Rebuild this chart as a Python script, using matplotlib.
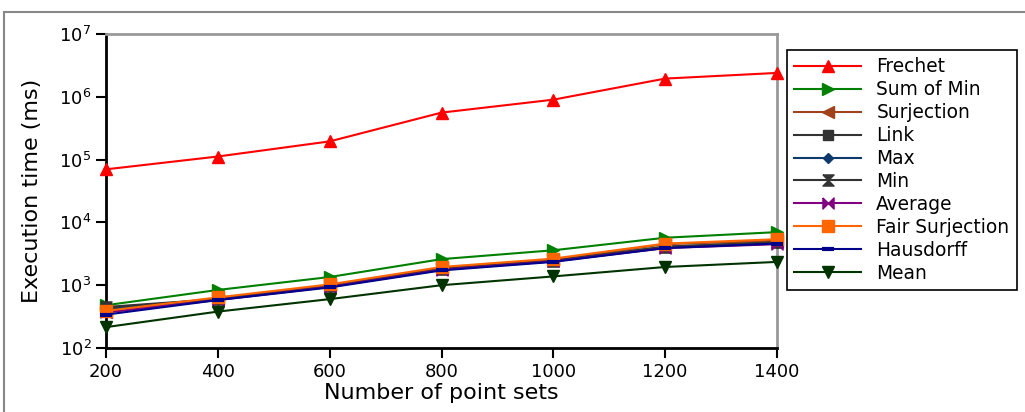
import matplotlib
matplotlib.use("Agg")
import matplotlib.pyplot as plt
from matplotlib.patches import Rectangle

# Number of point sets processed
point_sets = [200, 400, 600, 800, 1000, 1200, 1400]

# Execution time (ms) per distance measure
frechet = [7.0e4, 1.12e5, 1.95e5, 5.6e5, 9.0e5, 1.95e6, 2.4e6]
sum_of_min = [480, 840, 1350, 2600, 3600, 5700, 7000]
surjection = [370, 610, 990, 1880, 2550, 4500, 5100]
link = [430, 600, 960, 1800, 2450, 4100, 4800]
max_ = [410, 590, 950, 1780, 2400, 4000, 4700]
min_ = [450, 600, 960, 1800, 2450, 4100, 4800]
average = [370, 580, 940, 1760, 2400, 3900, 4500]
fair_surjection = [390, 640, 1030, 1950, 2650, 4600, 5400]
hausdorff = [340, 580, 920, 1720, 2350, 3900, 4600]
mean = [215, 380, 600, 1000, 1380, 1950, 2350]

labels = ["Frechet", "Sum of Min", "Surjection", "Link", "Max", "Min",
          "Average", "Fair Surjection", "Hausdorff", "Mean"]
series = [frechet, sum_of_min, surjection, link, max_, min_,
          average, fair_surjection, hausdorff, mean]

hourglass = [(-1, 1), (1, 1), (-1, -1), (1, -1), (-1, 1)]
bowtie = [(-1, 1), (-1, -1), (1, 1), (1, -1), (-1, 1)]

styles = [
    dict(color="#ff0000", marker="^", ms=8),
    dict(color="#008000", marker=">", ms=8),
    dict(color="#a0421b", marker="<", ms=8),
    dict(color="#333333", marker="s", ms=7),
    dict(color="#0e3a6b", marker="D", ms=5),
    dict(color="#333333", marker=hourglass, ms=8),
    dict(color="#800080", marker=bowtie, ms=8),
    dict(color="#ff6600", marker="s", ms=8),
    dict(color="#00008b", marker="_", ms=8, mew=3),
    dict(color="#003300", marker="v", ms=8),
]

fig = plt.figure(figsize=(10.25, 4.12), dpi=100)
ax = fig.add_axes([106 / 1025, 1 - 348 / 412, (777 - 106) / 1025, (348 - 34) / 412])

handles = []
for vals, lab, st in zip(series, labels, styles):
    st = dict(st)
    mew = st.pop("mew", 1)
    h, = ax.plot(point_sets, vals, label=lab, lw=1.5, mew=mew,
                 clip_on=False, zorder=3, **st)
    handles.append(h)

ax.set_yscale("log")
ax.set_ylim(1e2, 1e7)
ax.set_xlim(200, 1400)
ax.set_xticks(point_sets)
ax.minorticks_off()
ax.tick_params(labelsize=13, length=7, width=1.5)

ax.spines["left"].set_linewidth(2)
ax.spines["bottom"].set_linewidth(2)
for s in ("top", "right"):
    ax.spines[s].set_color("#999999")
    ax.spines[s].set_linewidth(2)

ax.set_xlabel("Number of point sets", fontsize=16, labelpad=2)
ax.set_ylabel("Execution time (ms)", fontsize=16, labelpad=12)

leg = fig.legend(handles=handles, loc="upper left",
                 bbox_to_anchor=(787 / 1025, 1 - 50 / 412),
                 fontsize=13.4, handlelength=3.6, handletextpad=0.8,
                 labelspacing=0.21, fancybox=False, framealpha=1,
                 borderaxespad=0)
leg.get_frame().set_edgecolor("black")
leg.get_frame().set_linewidth(1.2)

# Outer frame around the figure
fig.patches.append(Rectangle((4 / 1025, -0.1), 1.2, 1 - 12 / 412 + 0.1,
                             transform=fig.transFigure, fill=False,
                             edgecolor="#888888", lw=1.5))

fig.savefig("out.png", dpi=100, facecolor="white")
